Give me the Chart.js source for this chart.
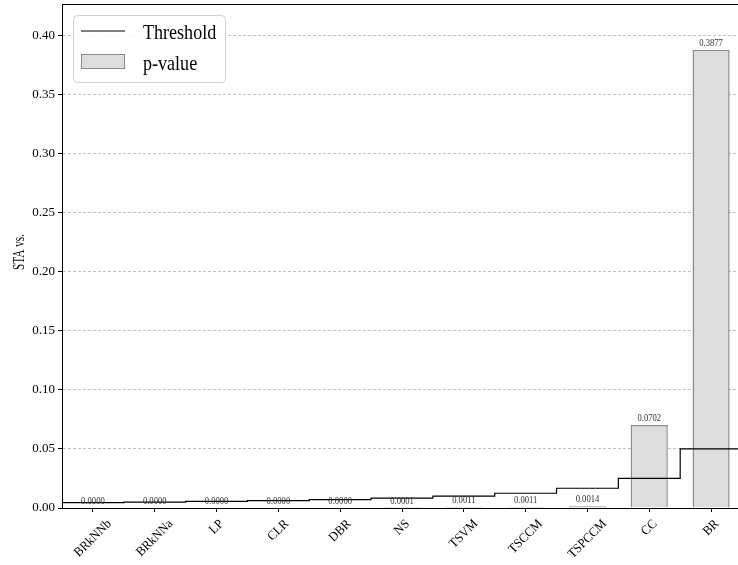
<!DOCTYPE html>
<html>
<head>
<meta charset="utf-8">
<script src="https://cdn.jsdelivr.net/npm/chart.js@4/dist/chart.umd.min.js"></script>
<style>
html,body{margin:0;padding:0;background:#fff;overflow:hidden;}
#wrap{width:738px;height:565px;overflow:hidden;position:relative;}
canvas{display:block;}
</style>
</head>
<body>
<div id="wrap"><canvas id="c" width="743" height="565"></canvas></div>
<script>
// ---- data ----
const categories = ['BRkNNb','BRkNNa','LP','CLR','DBR','NS','TSVM','TSCCM','TSPCCM','CC','BR'];
const pValues = [0.0000,0.0000,0.0000,0.0000,0.0000,0.0001,0.0011,0.0011,0.0014,0.0702,0.3877];
const thresholds = [0.0045,0.0050,0.0056,0.0063,0.0071,0.0083,0.0100,0.0125,0.0167,0.0250,0.0500];
const yTickValues = [0.00,0.05,0.10,0.15,0.20,0.25,0.30,0.35,0.40];
const seriesLabels = {threshold:'Threshold', pvalue:'p-value'};
const yTitle = 'STA vs.';

const FONT = "'Liberation Serif', 'Times New Roman', serif";

// threshold as a step line on a hidden linear axis spanning the category bands
const thresholdPoints = thresholds.map((t,i)=>({x:i-0.5,y:t}));
thresholdPoints.push({x:thresholds.length-0.5,y:thresholds[thresholds.length-1]});

function squeezedText(ctx, text, x, y, size, align, baseline, color, rot, sq){
  ctx.save();
  ctx.font = size + 'px ' + FONT;
  ctx.fillStyle = color;
  ctx.textAlign = align;
  ctx.textBaseline = baseline;
  ctx.translate(x, y);
  if (rot) ctx.rotate(rot);
  ctx.scale(sq, 1);
  ctx.fillText(text, 0, 0);
  ctx.restore();
}

const framePlugin = {
  id:'frame',
  afterDatasetsDraw(chart){
    const ctx = chart.ctx;
    const meta = chart.getDatasetMeta(1);
    meta.data.forEach((el,i)=>{
      squeezedText(ctx, pValues[i].toFixed(4), el.x, el.y - 4, 10, 'center', 'alphabetic', '#333333', 0, 0.86);
    });
  },
  afterDraw(chart){
    const ctx = chart.ctx, a = chart.chartArea;
    ctx.save();
    ctx.strokeStyle = '#000';
    ctx.lineWidth = 1;
    ctx.beginPath();
    ctx.moveTo(a.left, a.top+0.5); ctx.lineTo(a.right, a.top+0.5);
    ctx.moveTo(a.right-0.5, a.top); ctx.lineTo(a.right-0.5, a.bottom);
    ctx.stroke();
    ctx.restore();
    // y axis title
    squeezedText(ctx, yTitle, 19.5, 252, 16, 'center', 'middle', '#000', -Math.PI/2, 0.7);
    // x tick labels (rotated 45°, centred under the tick)
    const xs = chart.scales.x;
    const XSQ = 0.95;
    ctx.save();
    ctx.font = '13px ' + FONT;
    categories.forEach((lab,i)=>{
      const x = xs.getPixelForTick(i);
      const w = ctx.measureText(lab).width * XSQ;
      const s = (w + 11) * Math.SQRT1_2;
      const cy = a.bottom + 10 + s/2;
      squeezedText(ctx, lab, x, cy, 13, 'center', 'middle', '#000', -Math.PI/4, XSQ);
    });
    ctx.restore();
    // legend
    const lx = 73.5, ly = 15.5, lw = 152, lh = 67;
    ctx.save();
    ctx.beginPath();
    ctx.roundRect(lx, ly, lw, lh, 4);
    ctx.fillStyle = 'rgba(255,255,255,0.85)';
    ctx.fill();
    ctx.strokeStyle = '#d0d0d0';
    ctx.lineWidth = 1;
    ctx.stroke();
    ctx.beginPath();
    ctx.moveTo(81, 31); ctx.lineTo(125, 31);
    ctx.strokeStyle = '#000'; ctx.lineWidth = 1.2; ctx.stroke();
    ctx.fillStyle = '#dddddd';
    ctx.fillRect(81.5, 54.5, 43, 14);
    ctx.strokeStyle = '#888888'; ctx.lineWidth = 1;
    ctx.strokeRect(81.5, 54.5, 43, 14);
    ctx.restore();
    squeezedText(ctx, chart.data.datasets[0].label, 143, 39, 21, 'left', 'alphabetic', '#000', 0, 0.86);
    squeezedText(ctx, chart.data.datasets[1].label, 143, 70, 21, 'left', 'alphabetic', '#000', 0, 0.86);
  }
};

new Chart(document.getElementById('c'), {
  data:{
    labels: categories,
    datasets:[
      {
        type:'line',
        label: seriesLabels.threshold,
        data: thresholdPoints,
        xAxisID:'x2',
        yAxisID:'y',
        stepped:'before',
        borderColor:'#000',
        borderWidth:1.2,
        pointRadius:0,
        fill:false,
        order:0
      },
      {
        type:'bar',
        label: seriesLabels.pvalue,
        data: pValues,
        xAxisID:'x',
        yAxisID:'y',
        backgroundColor:'#dddddd',
        borderColor:'#8a8a8a',
        borderWidth:1.5,
        grouped:false,
        barPercentage:0.6,
        categoryPercentage:1,
        order:1
      }
    ]
  },
  options:{
    responsive:false,
    animation:false,
    devicePixelRatio:1,
    layout:{padding:{left:0,right:1,top:4,bottom:0}},
    plugins:{legend:{display:false}, tooltip:{enabled:false}},
    scales:{
      x:{
        type:'category',
        offset:true,
        afterFit(s){ s.height = 57; s.paddingLeft = 0; s.paddingRight = 0; },
        grid:{drawOnChartArea:false, drawTicks:true, tickLength:4, tickColor:'#000', tickWidth:1, offset:false},
        border:{color:'#000', width:1},
        ticks:{display:false, autoSkip:false}
      },
      x2:{
        type:'linear',
        display:false,
        min:-0.5,
        max:categories.length-0.5
      },
      y:{
        type:'linear',
        min:0,
        max:0.4265,
        afterFit(s){ s.width = 62; s.paddingTop = 0; s.paddingBottom = 0; },
        afterBuildTicks(s){ s.ticks = yTickValues.map(v=>({value:v})); },
        grid:{color:'#b0b0b0', lineWidth:0.8, tickLength:4, tickColor:'#000', tickWidth:1},
        border:{color:'#000', width:1, dash:[3,2]},
        ticks:{
          color:'#000',
          padding:3,
          font:{family:FONT, size:13},
          callback:(v)=>Number(v).toFixed(2)
        },
        title:{display:false}
      }
    }
  },
  plugins:[framePlugin]
});
</script>
</body>
</html>
